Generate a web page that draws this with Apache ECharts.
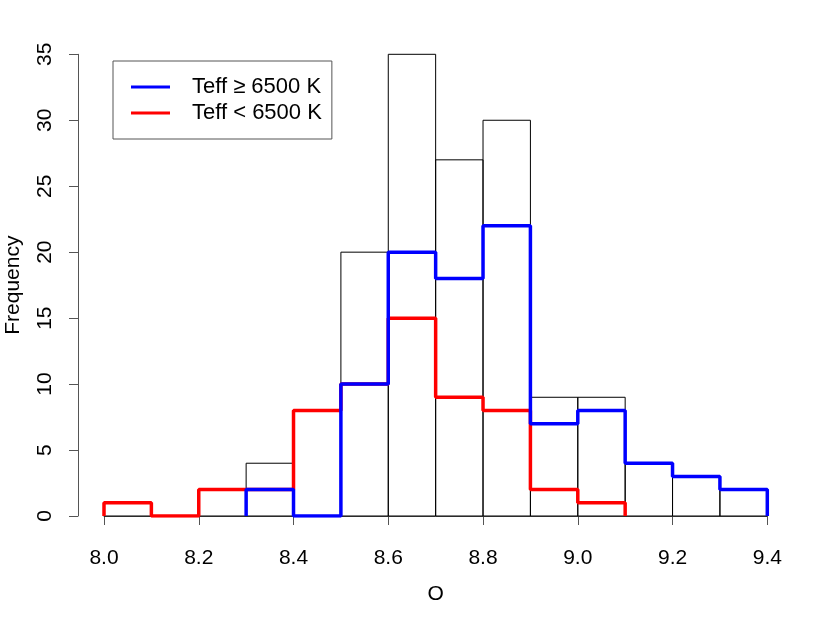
<!DOCTYPE html>
<html>
<head>
<meta charset="utf-8">
<script src="https://cdn.jsdelivr.net/npm/echarts@6/dist/echarts.min.js"></script>
<style>
  html, body { margin: 0; padding: 0; background: #fff; }
  #chart { width: 830px; height: 623px; }
</style>
</head>
<body>
<div id="chart"></div>
<script>
// bin edges (O abundance), width 0.1
const binEdges = [8.0, 8.1, 8.2, 8.3, 8.4, 8.5, 8.6, 8.7, 8.8, 8.9, 9.0, 9.1, 9.2, 9.3, 9.4]
// all stars
const totalCounts = [1, 0, 2, 4, 8, 20, 35, 27, 30, 9, 9, 4, 3, 2]
// Teff >= 6500 K (null = outside the range of that sample)
const hotCounts = [null, null, null, 2, 0, 10, 20, 18, 22, 7, 8, 4, 3, 2]
// Teff < 6500 K
const coolCounts = [1, 0, 2, 2, 8, 10, 15, 9, 8, 2, 1, null, null, null]

const FONT = '"Liberation Sans", Arial, Helvetica, sans-serif'

// outline of a histogram drawn as steps, from first to last bin present
function stepPoints(counts) {
  const pts = []
  let first = counts.findIndex((c) => c !== null)
  let last = counts.length - 1
  while (counts[last] === null) last--
  pts.push([binEdges[first], 0])
  for (let i = first; i <= last; i++) {
    pts.push([binEdges[i], counts[i]])
    pts.push([binEdges[i + 1], counts[i]])
  }
  pts.push([binEdges[last + 1], 0])
  return pts
}

const barData = totalCounts.map((c, i) => [binEdges[i], binEdges[i + 1], c])

const chart = echarts.init(document.getElementById('chart'))

chart.setOption({
  animation: false,
  textStyle: { fontFamily: FONT },
  grid: { left: 104, right: 62.7, top: 54.3, bottom: 107, outerBoundsMode: 'none', containLabel: false },
  legend: {
    data: [
      { name: 'Teff ≥ 6500 K', icon: 'rect' },
      { name: 'Teff < 6500 K', icon: 'rect' },
    ],
    orient: 'vertical',
    left: 113,
    top: 61,
    itemWidth: 39,
    itemHeight: 3,
    itemGap: 4,
    padding: [15, 10, 15, 18],
    borderColor: '#555',
    borderWidth: 1,
    textStyle: { fontSize: 22, color: '#000', lineHeight: 22, padding: [0, 0, 0, 17], fontFamily: FONT },
  },
  xAxis: {
    type: 'value',
    min: 8.0,
    max: 9.4,
    interval: 0.2,
    offset: 19,
    name: 'O',
    nameLocation: 'middle',
    nameGap: 49,
    nameTextStyle: { fontSize: 21, color: '#000' },
    axisLine: { show: true, lineStyle: { color: '#555', width: 1 } },
    axisTick: { show: true, length: 9, lineStyle: { color: '#555' } },
    axisLabel: {
      fontSize: 21,
      color: '#000',
      margin: 13,
      formatter: (v) => v.toFixed(1),
    },
    splitLine: { show: false },
  },
  yAxis: {
    type: 'value',
    min: 0,
    max: 35,
    interval: 5,
    offset: 26,
    name: 'Frequency',
    nameLocation: 'middle',
    nameGap: 54,
    nameTextStyle: { fontSize: 21, color: '#000' },
    axisLine: { show: true, lineStyle: { color: '#555', width: 1 } },
    axisTick: { show: true, length: 9, lineStyle: { color: '#555' } },
    axisLabel: { fontSize: 21, color: '#000', margin: 22, rotate: 90 },
    splitLine: { show: false },
  },
  series: [
    {
      type: 'custom',
      name: 'all',
      data: barData,
      encode: { x: [0, 1], y: 2 },
      z: 1,
      renderItem: (params, api) => {
        const p0 = api.coord([api.value(0), api.value(2)])
        const p1 = api.coord([api.value(1), 0])
        return {
          type: 'rect',
          shape: { x: p0[0], y: p0[1], width: p1[0] - p0[0], height: p1[1] - p0[1] },
          style: { fill: 'none', stroke: '#000', lineWidth: 1 },
        }
      },
    },
    {
      type: 'line',
      name: 'Teff < 6500 K',
      data: stepPoints(coolCounts),
      showSymbol: false,
      symbol: 'none',
      z: 3,
      itemStyle: { color: '#ff0000' },
      lineStyle: { color: '#ff0000', width: 3.5 },
    },
    {
      type: 'line',
      name: 'Teff ≥ 6500 K',
      data: stepPoints(hotCounts),
      showSymbol: false,
      symbol: 'none',
      z: 4,
      itemStyle: { color: '#0000ff' },
      lineStyle: { color: '#0000ff', width: 3.5 },
    },
  ],
})
</script>
</body>
</html>
